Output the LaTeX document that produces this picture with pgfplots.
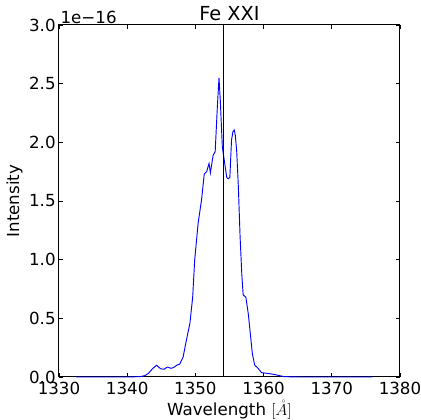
\documentclass[border=0pt]{standalone}
\usepackage{pgfplots}
\pgfplotsset{compat=1.18}
\usepackage{fontspec}
\setmainfont{DejaVu Sans}
\begin{document}
\begin{tikzpicture}[x=1pt,y=1pt,font=\fontsize{12.5}{14}\selectfont]
\begin{axis}[
  name=ax,
  scale only axis,
  clip=false,
  width=255.75pt, height=264pt,
  xmin=1330, xmax=1380, ymin=0, ymax=3.0,
  xtick={1330,1340,...,1380},
  ytick={0,0.5,...,3.0},
  tick align=inside,
  major tick length=3pt,
  axis line style={line width=0.75pt},
  every tick/.style={black, line width=0.6pt},
  tick label style={font=\fontsize{12.5}{14}\selectfont},
  label style={font=\fontsize{12.5}{14}\selectfont},
  /pgf/number format/assume math mode=true,
  xticklabel style={/pgf/number format/1000 sep=, yshift=0pt},
  yticklabel style={/pgf/number format/fixed, /pgf/number format/precision=1, /pgf/number format/fixed zerofill, xshift=1pt},
  scaled y ticks=false,
  title={Fe XXI},
  title style={font=\fontsize{14.5}{16}\selectfont, yshift=-6pt},
  xlabel={Wavelength $[\mathring{A}]$},
  ylabel={Intensity},
  xlabel style={yshift=2pt},
  ylabel style={yshift=-2pt},
]
\addplot[blue, line width=0.7pt] coordinates {
(1332.5,0) (1336,0) (1340,0) (1341.9,0.003) (1342.6,0.012) (1343.1,0.03)
(1343.7,0.07) (1344.3,0.10) (1344.9,0.07) (1345.4,0.066) (1345.9,0.085)
(1346.4,0.074) (1346.8,0.08) (1347.25,0.10) (1347.7,0.11) (1348.2,0.17)
(1348.7,0.32) (1349.2,0.46) (1349.6,0.68) (1349.9,1.0) (1350.4,1.31)
(1350.9,1.51) (1351.3,1.73) (1351.65,1.75) (1352.0,1.82) (1352.2,1.74)
(1352.6,1.89) (1352.9,1.92) (1353.2,2.28) (1353.46,2.55) (1353.65,2.36)
(1353.95,1.96) (1354.3,1.82) (1354.6,1.70) (1354.8,1.69) (1355.05,1.70)
(1355.3,2.02) (1355.5,2.09) (1355.7,2.105) (1355.85,2.06) (1356.05,1.93)
(1356.3,1.62) (1356.55,1.20) (1356.8,0.88) (1357.0,0.70) (1357.4,0.68)
(1357.75,0.54) (1358.05,0.37) (1358.35,0.20) (1358.7,0.10) (1359.2,0.074)
(1359.7,0.037) (1360.7,0.03) (1361.7,0.02) (1363,0.003) (1365,0) (1376,0)
};
\addplot[black, line width=0.7pt] coordinates {(1354.1,0) (1354.1,3.0)};
\node[anchor=south west, inner sep=1pt] at (rel axis cs:0,1) {1e−16};
\end{axis}
\pgfresetboundingbox
\path[use as bounding box] ([shift={(-44.25pt,-32.25pt)}]ax.south west) rectangle ([shift={(15.75pt,18.75pt)}]ax.north east);
\end{tikzpicture}
\end{document}
